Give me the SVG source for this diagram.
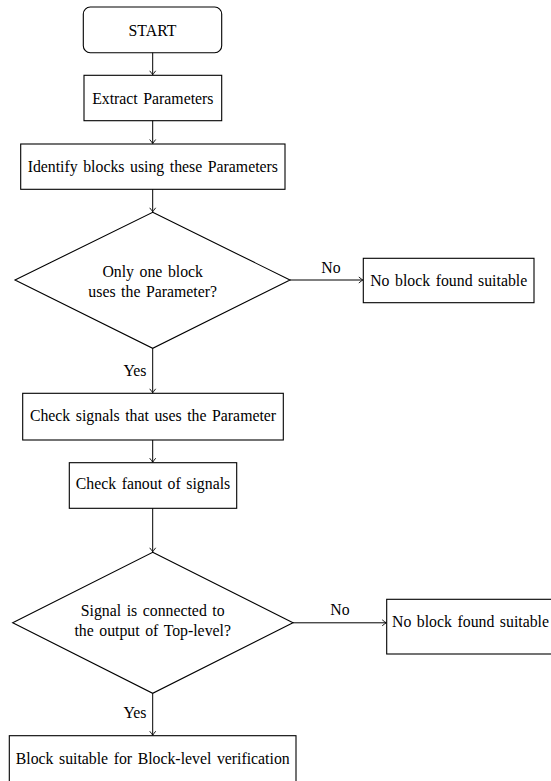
<svg xmlns="http://www.w3.org/2000/svg" width="551" height="781" viewBox="0 0 551 781">
<defs>
<style>
.box{fill:#fff;stroke:#000;stroke-width:1.1}
.t{font-size:15.8px;word-spacing:1.6px;fill:#000;text-anchor:middle}
.c{fill:none;stroke:#000;stroke-width:1}
</style>
<marker id="ah" viewBox="-5 -4 6 8" markerWidth="6" markerHeight="8" refX="0" refY="0" orient="auto" markerUnits="userSpaceOnUse">
<path d="M-4,-3 Q-1,-0.6 0,0 Q-1,0.6 -4,3" fill="none" stroke="#000" stroke-width="0.9"/>
</marker>
</defs>
<rect width="551" height="781" fill="#fff"/>
<g font-family="'Liberation Serif', 'Times New Roman', serif">
<g id="start"><rect class="box" x="83.3" y="7" width="138.4" height="45.7" rx="7"/><text class="t" x="152.5" y="36">START</text></g>
<g id="extract"><rect class="box" x="84" y="75.3" width="137.7" height="45.4"/><text class="t" x="152.8" y="104">Extract Parameters</text></g>
<g id="identify"><rect class="box" x="20.7" y="144" width="264.3" height="45.3"/><text class="t" x="152.8" y="172">Identify blocks using these Parameters</text></g>
<g id="decision1"><polygon class="box" points="152.7,212.3 290,280 152.7,348.3 15,280"/><text class="t" x="152.7" y="277">Only one block</text><text class="t" x="152.7" y="296.5">uses the Parameter?</text></g>
<g id="nobox1"><rect class="box" x="363.3" y="258.3" width="170.7" height="44.4"/><text class="t" x="448.7" y="286">No block found suitable</text></g>
<g id="checksignals"><rect class="box" x="22.7" y="393.3" width="260.6" height="46.7"/><text class="t" x="153" y="421">Check signals that uses the Parameter</text></g>
<g id="fanout"><rect class="box" x="69.3" y="462.7" width="167.4" height="45.6"/><text class="t" x="153" y="489">Check fanout of signals</text></g>
<g id="decision2"><polygon class="box" points="152.7,552.3 293,622.8 152.7,693.3 12.7,622.8"/><text class="t" x="152.7" y="616">Signal is connected to</text><text class="t" x="152.7" y="636">the output of Top-level?</text></g>
<g id="nobox2"><rect class="box" x="386.7" y="599.3" width="168" height="54.7"/><text class="t" x="470.5" y="627">No block found suitable</text></g>
<g id="final"><rect class="box" x="9.3" y="735.7" width="286.7" height="47"/><text class="t" x="152.7" y="764">Block suitable for Block-level verification</text></g>
<g id="connectors">
<line class="c" x1="152.7" y1="52.7" x2="152.7" y2="74.8" marker-end="url(#ah)"/>
<line class="c" x1="152.7" y1="120.7" x2="152.7" y2="143.5" marker-end="url(#ah)"/>
<line class="c" x1="152.7" y1="189.3" x2="152.7" y2="211.8" marker-end="url(#ah)"/>
<line class="c" x1="290" y1="280" x2="362.8" y2="280" marker-end="url(#ah)"/>
<text class="t" x="331" y="273">No</text>
<line class="c" x1="152.7" y1="348.3" x2="152.7" y2="392.8" marker-end="url(#ah)"/>
<text class="t" x="135" y="376">Yes</text>
<line class="c" x1="152.7" y1="440" x2="152.7" y2="462.2" marker-end="url(#ah)"/>
<line class="c" x1="152.7" y1="508.3" x2="152.7" y2="551.8" marker-end="url(#ah)"/>
<line class="c" x1="293" y1="622.8" x2="386.2" y2="622.8" marker-end="url(#ah)"/>
<text class="t" x="340" y="615">No</text>
<line class="c" x1="152.7" y1="693.3" x2="152.7" y2="735.2" marker-end="url(#ah)"/>
<text class="t" x="135" y="718">Yes</text>
</g>
</g>
</svg>
